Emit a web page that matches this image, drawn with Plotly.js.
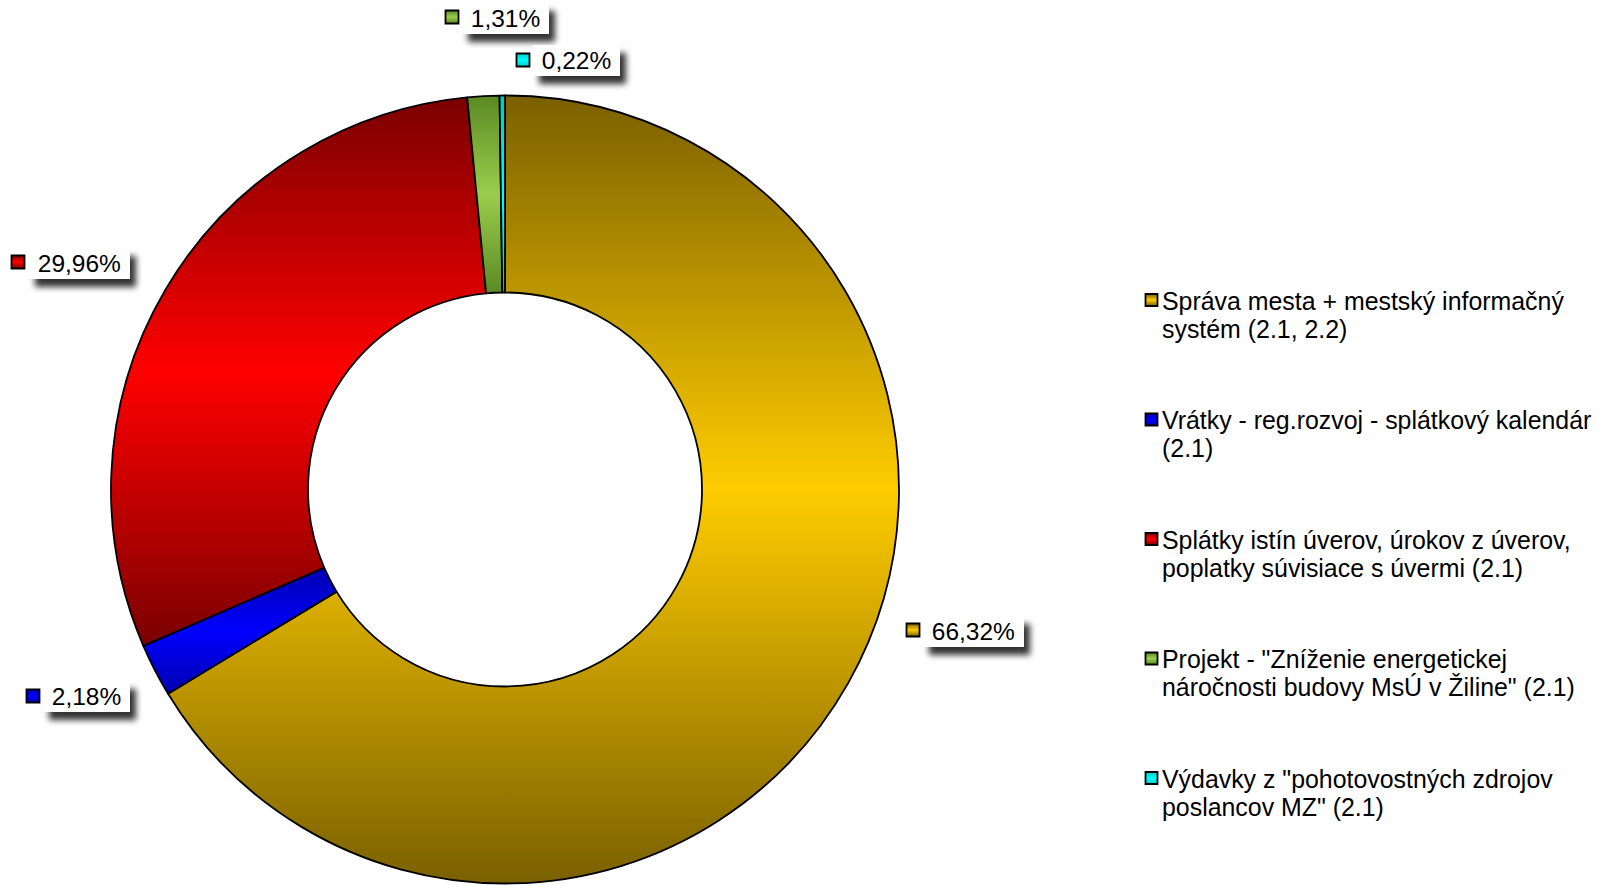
<!DOCTYPE html>
<html>
<head>
<meta charset="utf-8">
<script src="https://cdn.plot.ly/plotly-3.0.1.min.js"></script>
<style>
  html, body { margin: 0; padding: 0; background: #fff; }
  #chart { width: 1608px; height: 885px; }
</style>
</head>
<body>
<div id="chart"></div>
<script>
// ---- data ----
const categories = [
  'Správa mesta + mestský informačný<br>systém (2.1, 2.2)',
  'Vrátky - reg.rozvoj - splátkový kalendár<br>(2.1)',
  'Splátky istín úverov, úrokov z úverov,<br>poplatky súvisiace s úvermi (2.1)',
  'Projekt - "Zníženie energetickej<br>náročnosti budovy MsÚ v Žiline" (2.1)',
  'Výdavky z "pohotovostných zdrojov<br>poslancov MZ" (2.1)'
];
const values = [66.32, 2.18, 29.96, 1.31, 0.22];

// ---- styles ----
const baseColors = ['#e6b800', '#0000ff', '#e00000', '#8dc63f', '#00ffff'];
const gradStops = [
  ['#7a6000', '#ffcc00'],
  ['#0000b0', '#0000ff'],
  ['#7a0000', '#ff0000'],
  ['#5b8a24', '#9acd4c'],
  ['#00c8c8', '#00ffff']
];
// label box centres and key squares (pixels)
const labelPos = [[973, 631], [86, 696], [79, 263], [505, 18], [576, 61]];
const keyPos   = [[913, 630], [33, 696], [18, 262], [452, 17], [523, 60]];
// legend geometry (pixels)
const legTextX = 1162, legSymX = 1151.5, legY0 = 300, legStep = 119.5;

const W = 1608, H = 885;
const cx = 505, cy = 489.5, R = 394;
const FONT = 'Liberation Sans, Arial, sans-serif';

const fmt = v => '\u00a0' + v.toFixed(2).replace('.', ',') + '%\u00a0';

const trace = {
  type: 'pie',
  labels: categories,
  values: values,
  sort: false,
  direction: 'clockwise',
  rotation: 0,
  hole: 0.5,
  textinfo: 'none',
  hoverinfo: 'skip',
  marker: { colors: baseColors, line: { color: '#000', width: 1.8 } },
  domain: { x: [(cx - R) / W, (cx + R) / W], y: [1 - (cy + R) / H, 1 - (cy - R) / H] }
};

const annotations = [];
const shapes = [];
values.forEach((v, i) => {
  annotations.push({
    xref: 'paper', yref: 'paper',
    x: labelPos[i][0] / W, y: 1 - labelPos[i][1] / H,
    xanchor: 'center', yanchor: 'middle',
    text: fmt(v), showarrow: false,
    font: { family: FONT, size: 24.5, color: '#000' },
    bgcolor: '#ffffff', borderpad: 2, borderwidth: 0
  });
  shapes.push({
    type: 'rect', xref: 'paper', yref: 'paper',
    xsizemode: 'pixel', ysizemode: 'pixel',
    xanchor: keyPos[i][0] / W, yanchor: 1 - keyPos[i][1] / H,
    x0: -6.5, x1: 6.5, y0: -6.5, y1: 6.5,
    fillcolor: baseColors[i], line: { color: '#000', width: 1.8 }
  });
});

const layout = {
  width: W, height: H,
  margin: { l: 0, r: 0, t: 0, b: 0 },
  paper_bgcolor: '#fff',
  showlegend: true,
  legend: {
    x: 1123 / W, xanchor: 'left',
    y: 1 - 280 / H, yanchor: 'top',
    valign: 'top',
    font: { family: FONT, size: 24.9, color: '#000' },
    bgcolor: 'rgba(0,0,0,0)'
  },
  annotations: annotations,
  shapes: shapes
};

Plotly.newPlot('chart', [trace], layout, { displayModeBar: false, staticPlot: true }).then(gd => {
  const ns = 'http://www.w3.org/2000/svg';
  const svg = gd.querySelector('.main-svg');
  let defs = svg.querySelector('defs');
  if (!defs) { defs = document.createElementNS(ns, 'defs'); svg.insertBefore(defs, svg.firstChild); }
  gradStops.forEach((s, i) => {
    const g = document.createElementNS(ns, 'linearGradient');
    g.setAttribute('id', 'grad' + i);
    g.setAttribute('x1', '0'); g.setAttribute('y1', '0');
    g.setAttribute('x2', '0'); g.setAttribute('y2', '1');
    [[0, s[0]], [0.5, s[1]], [1, s[0]]].forEach(([o, c]) => {
      const st = document.createElementNS(ns, 'stop');
      st.setAttribute('offset', o); st.setAttribute('stop-color', c);
      g.appendChild(st);
    });
    defs.appendChild(g);
  });
  const f = document.createElementNS(ns, 'filter');
  f.setAttribute('id', 'shd');
  f.setAttribute('x', '-30%'); f.setAttribute('y', '-40%');
  f.setAttribute('width', '170%'); f.setAttribute('height', '220%');
  const ds = document.createElementNS(ns, 'feDropShadow');
  ds.setAttribute('dx', '6'); ds.setAttribute('dy', '8');
  ds.setAttribute('stdDeviation', '3');
  ds.setAttribute('flood-color', '#000'); ds.setAttribute('flood-opacity', '0.8');
  f.appendChild(ds); defs.appendChild(f);

  gd.querySelectorAll('g.slice path.surface').forEach((p, i) => { p.style.fill = 'url(#grad' + i + ')'; });
  gd.querySelectorAll('.shapelayer path').forEach((p, i) => { p.style.fill = 'url(#grad' + i + ')'; });
  gd.querySelectorAll('.annotation rect.bg').forEach(r => { r.setAttribute('filter', 'url(#shd)'); });

  // legend: tighter line spacing and Excel-like placement
  const sb = gd.querySelector('.legend .scrollbox');
  if (sb) sb.removeAttribute('clip-path');
  const lg = gd.querySelector('.legend');
  if (lg) lg.removeAttribute('clip-path');
  const box = gd.getBoundingClientRect();
  gd.querySelectorAll('.legend .traces').forEach((t, i) => {
    const p = t.querySelector('path.legendpie');
    if (p) p.style.fill = 'url(#grad' + i + ')';
    t.querySelectorAll('text.legendtext tspan.line').forEach((ln, k) => {
      if (k > 0) ln.setAttribute('dy', '1.12em');
    });
    const m = /translate\(([-\d.e]+)[ ,]+([-\d.e]+)\)/.exec(t.getAttribute('transform') || 'translate(0,0)');
    const tx = m ? +m[1] : 0, ty = m ? +m[2] : 0;
    const sym = t.querySelector('.legendpoints');
    const sr = sym.getBoundingClientRect();
    const txt = t.querySelector('text.legendtext');
    const tr = txt.getBoundingClientRect();
    const dy = (legY0 + i * legStep) - (sr.top - box.top + sr.height / 2);
    const dx = legTextX - (tr.left - box.left);
    t.setAttribute('transform', 'translate(' + (tx + dx) + ',' + (ty + dy) + ')');
    const sr2 = sym.getBoundingClientRect();
    const sdx = legSymX - (sr2.left - box.left + sr2.width / 2);
    sym.setAttribute('transform', 'translate(' + sdx + ',0)');
  });
});
</script>
</body>
</html>
